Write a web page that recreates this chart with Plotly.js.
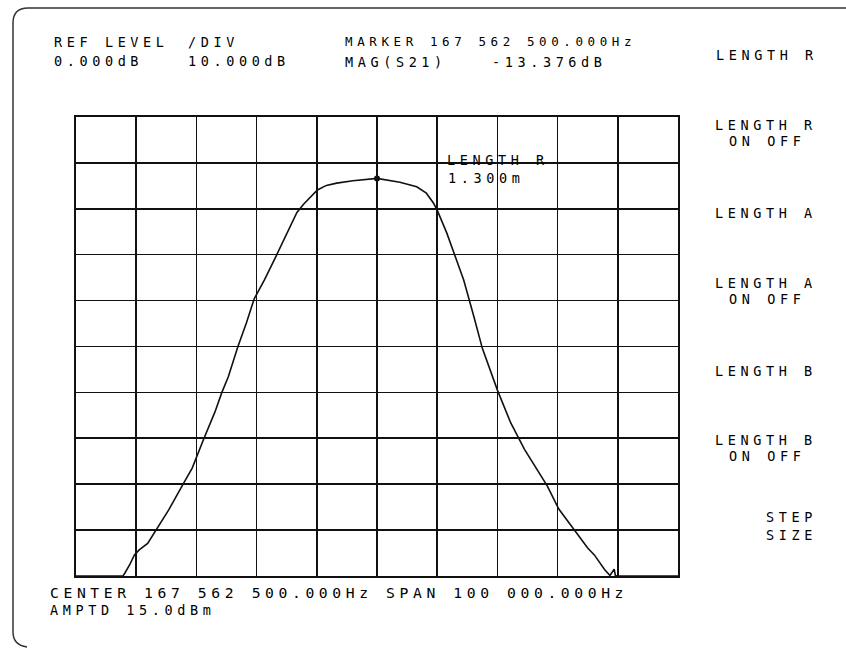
<!DOCTYPE html>
<html>
<head>
<meta charset="utf-8">
<script src="https://cdn.plot.ly/plotly-3.0.1.min.js"></script>
<style>
  html, body { margin: 0; padding: 0; background: #ffffff; }
  #chart { width: 846px; height: 650px; }
  .js-plotly-plot .annotation-text { letter-spacing: 4.6px; }
</style>
</head>
<body>
<div id="chart"></div>
<script>
// Frequency offset from center (kHz); center 167 562 500 Hz, span 100 kHz
const freqOffsetKHz = [-50, -42.2, -41.9, -41.1, -40.3, -39.5, -38.1, -36.7, -34.6, -32.3, -30.7, -28.8,
  -26.9, -25.8, -24.7, -23.1, -21.7, -20.4, -18.7, -16.8, -14.9, -13.3, -12.2, -11.0, -9.9, -8.4, -6.7,
  -4.0, 0, 3.8, 6.6, 8.2, 9.4, 10.0, 11.6, 13.0, 14.4, 16.1, 17.5, 20.0, 22.2, 24.5, 28.3, 30.2, 32.8,
  33.9, 35.0, 36.1, 37.0, 37.8, 38.7, 39.0, 39.4, 39.6, 40.0, 50];
// MAG(S21) in dB
const magDB = [-100, -100, -99.4, -97.6, -95.4, -94.3, -92.9, -90.0, -85.6, -80.2, -76.5, -70.2,
  -64.2, -60.1, -56.6, -50.0, -44.9, -39.6, -35.5, -30.4, -25.3, -20.8, -19.0, -17.3, -15.9, -14.9, -14.4,
  -13.9, -13.376, -14.2, -15.2, -16.6, -18.8, -20.3, -25.3, -30.4, -35.5, -43.5, -50.4, -59.5, -66.6,
  -72.4, -80.4, -85.4, -90.0, -92.0, -93.9, -95.4, -97.2, -98.6, -99.9, -99.2, -98.5, -99.9, -100, -100];

const markerFreqKHz = [0];
const markerDB = [-13.376];

const headerLabels = ["REF LEVEL", "0.000dB", "/DIV", "10.000dB", "MARKER 167 562 500.000Hz", "MAG(S21)", "-13.376dB"];
const softkeyLabels = ["LENGTH R", "LENGTH R", "ON OFF", "LENGTH A", "LENGTH A", "ON OFF", "LENGTH B", "LENGTH B", "ON OFF", "STEP", "SIZE"];
const markerLabels = ["LENGTH R", "1.300m"];
const footerLabels = ["CENTER 167 562 500.000Hz SPAN 100 000.000Hz", "AMPTD 15.0dBm"];

const L = 76, T = 117, W = 602, H = 459;
const px = x => (x - L) / W;
const py = y => (T + H - y) / H;
const font = (s) => ({ family: "DejaVu Sans Mono, monospace", size: s || 13.5, color: "#000000" });
function ann(text, x, y, size) {
  return { text: text, x: px(x), y: py(y), xref: "paper", yref: "paper", xanchor: "left", yanchor: "middle",
           align: "left", showarrow: false, font: font(size) };
}

const annotations = [
  ann(headerLabels[0], 52, 42), ann(headerLabels[1], 52, 61),
  ann(headerLabels[2], 186, 42), ann(headerLabels[3], 186, 61),
  ann(headerLabels[4], 343, 42, 12.5), ann(headerLabels[5], 343, 62), ann(headerLabels[6], 490, 62),
  ann(softkeyLabels[0], 714, 55),
  ann(softkeyLabels[1], 713, 125), ann(softkeyLabels[2], 727, 141),
  ann(softkeyLabels[3], 713, 213),
  ann(softkeyLabels[4], 713, 283), ann(softkeyLabels[5], 727, 299),
  ann(softkeyLabels[6], 713, 371),
  ann(softkeyLabels[7], 713, 440), ann(softkeyLabels[8], 727, 456),
  ann(softkeyLabels[9], 764, 517), ann(softkeyLabels[10], 764, 535),
  ann(markerLabels[0], 445, 160), ann(markerLabels[1], 446, 178),
  ann(footerLabels[0], 48, 592, 14.7), ann(footerLabels[1], 48, 610)
];

const shapes = [{
  type: "path", xref: "paper", yref: "paper",
  path: `M ${px(846)},${py(8)} L ${px(28)},${py(8)} Q ${px(13)},${py(8)} ${px(13)},${py(23)} L ${px(13)},${py(632)} Q ${px(13)},${py(645)} ${px(27)},${py(647)}`,
  line: { color: "#333333", width: 1.5 }
}];

const traces = [
  { x: freqOffsetKHz, y: magDB, type: "scatter", mode: "lines",
    line: { color: "#111111", width: 1.6 }, hoverinfo: "skip", cliponaxis: true },
  { x: markerFreqKHz, y: markerDB, type: "scatter", mode: "markers",
    marker: { color: "#111111", size: 6 }, hoverinfo: "skip" }
];

const axisCommon = {
  showgrid: true, gridcolor: "#111111", gridwidth: 1.6,
  showline: true, mirror: true, linecolor: "#111111", linewidth: 1.8,
  zeroline: false, showticklabels: false, ticks: "", fixedrange: true
};

const layout = {
  width: 846, height: 650,
  margin: { l: L, r: 846 - L - W, t: T, b: 650 - T - H },
  paper_bgcolor: "#ffffff", plot_bgcolor: "#ffffff",
  showlegend: false,
  xaxis: Object.assign({}, axisCommon, { range: [-50, 50], dtick: 10, tick0: -50 }),
  yaxis: Object.assign({}, axisCommon, { range: [-100, 0], dtick: 10, tick0: -100 }),
  annotations: annotations,
  shapes: shapes
};

Plotly.newPlot("chart", traces, layout, { displayModeBar: false, staticPlot: true });
</script>
</body>
</html>
